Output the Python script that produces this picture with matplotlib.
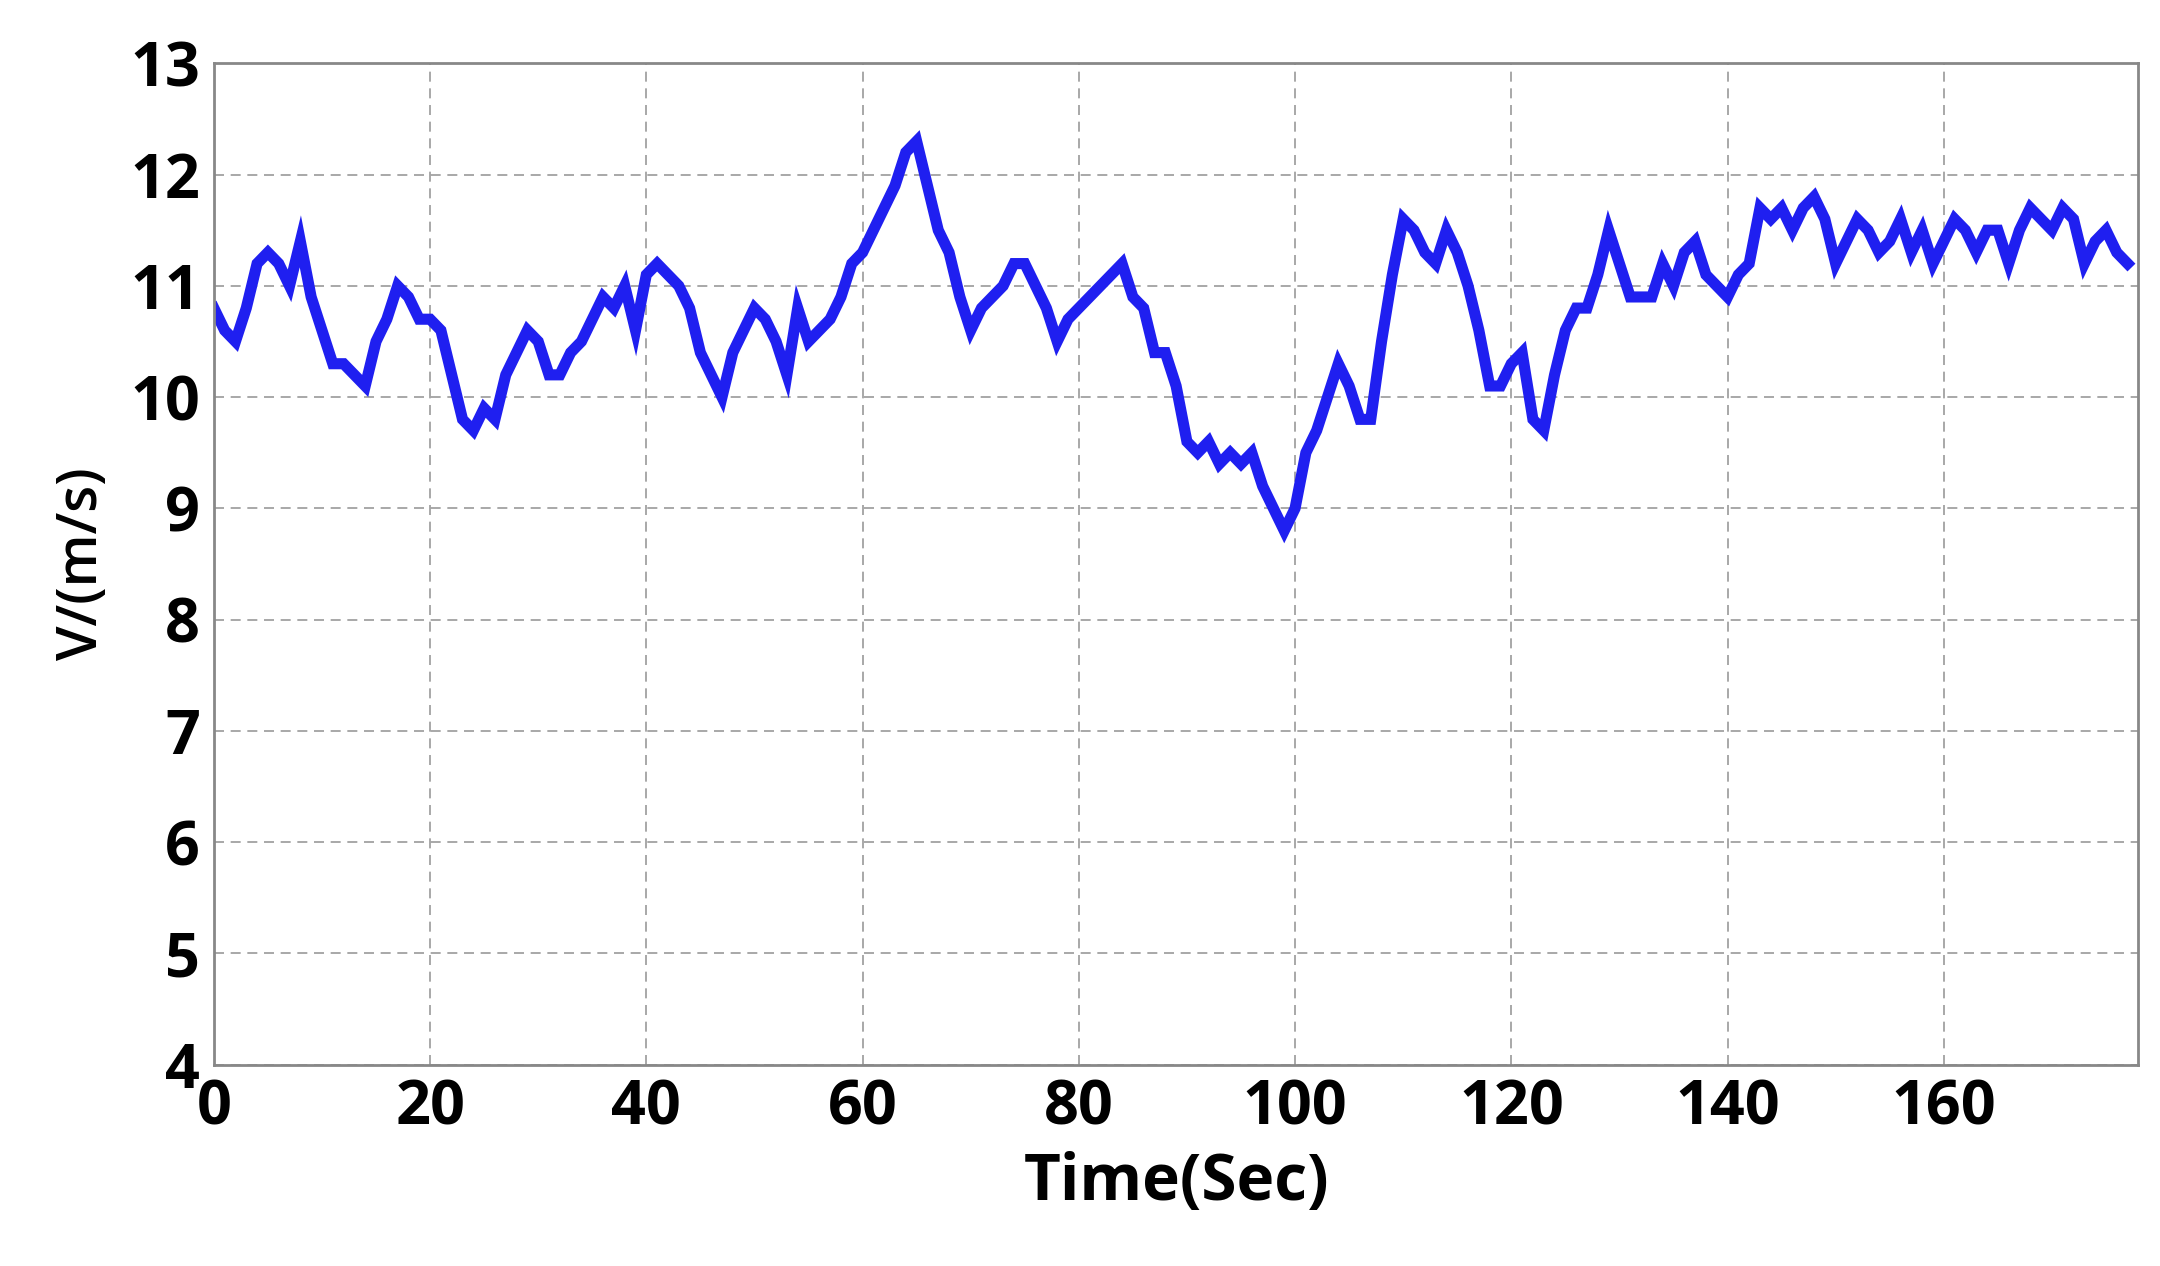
import matplotlib
matplotlib.use("Agg")
import matplotlib.pyplot as plt
import numpy as np

time_s = list(range(178))
speed = [10.8,10.6,10.5,10.8,11.2,11.3,11.2,11.0,11.4,10.9,10.6,10.3,10.3,10.2,10.1,10.5,10.7,11.0,10.9,10.7,
10.7,10.6,10.2,9.8,9.7,9.9,9.8,10.2,10.4,10.6,10.5,10.2,10.2,10.4,10.5,10.7,10.9,10.8,11.0,10.6,
11.1,11.2,11.1,11.0,10.8,10.4,10.2,10.0,10.4,10.6,10.8,10.7,10.5,10.2,10.8,10.5,10.6,10.7,10.9,11.2,
11.3,11.5,11.7,11.9,12.2,12.3,11.9,11.5,11.3,10.9,10.6,10.8,10.9,11.0,11.2,11.2,11.0,10.8,10.5,10.7,
10.8,10.9,11.0,11.1,11.2,10.9,10.8,10.4,10.4,10.1,9.6,9.5,9.6,9.4,9.5,9.4,9.5,9.2,9.0,8.8,
9.0,9.5,9.7,10.0,10.3,10.1,9.8,9.8,10.5,11.1,11.6,11.5,11.3,11.2,11.5,11.3,11.0,10.6,10.1,10.1,
10.3,10.4,9.8,9.7,10.2,10.6,10.8,10.8,11.1,11.5,11.2,10.9,10.9,10.9,11.2,11.0,11.3,11.4,11.1,11.0,
10.9,11.1,11.2,11.7,11.6,11.7,11.5,11.7,11.8,11.6,11.2,11.4,11.6,11.5,11.3,11.4,11.6,11.3,11.5,11.2,
11.4,11.6,11.5,11.3,11.5,11.5,11.2,11.5,11.7,11.6,11.5,11.7,11.6,11.2,11.4,11.5,11.3,11.2]

x_ticks = [0,20,40,60,80,100,120,140,160]
y_ticks = [4,5,6,7,8,9,10,11,12,13]

plt.rcParams['font.family'] = ['Open Sans', 'DejaVu Sans']
fig = plt.figure(figsize=(21.6,12.66), dpi=100)
ax = fig.add_axes([0.099, 0.159, 0.891, 0.791])
ax.plot(time_s, speed, color='#1f1ff0', lw=8, solid_joinstyle='miter')
ax.set_xlim(0,178)
ax.set_ylim(4,13)
ax.set_xticks(x_ticks)
ax.set_yticks(y_ticks)
ax.grid(True, color='#999999', ls=(0,(6,4)), lw=1.2)
ax.tick_params(labelsize=44, length=0, pad=10)
for t in ax.get_xticklabels()+ax.get_yticklabels():
    t.set_fontweight('bold')
for s in ax.spines.values():
    s.set_color('#888888'); s.set_linewidth(2)
ax.set_xlabel('Time(Sec)', fontsize=46, fontweight='bold', labelpad=8)
ax.set_ylabel('V/(m/s)', fontsize=40, fontweight='semibold', labelpad=14)
fig.savefig('out.png', dpi=100)
